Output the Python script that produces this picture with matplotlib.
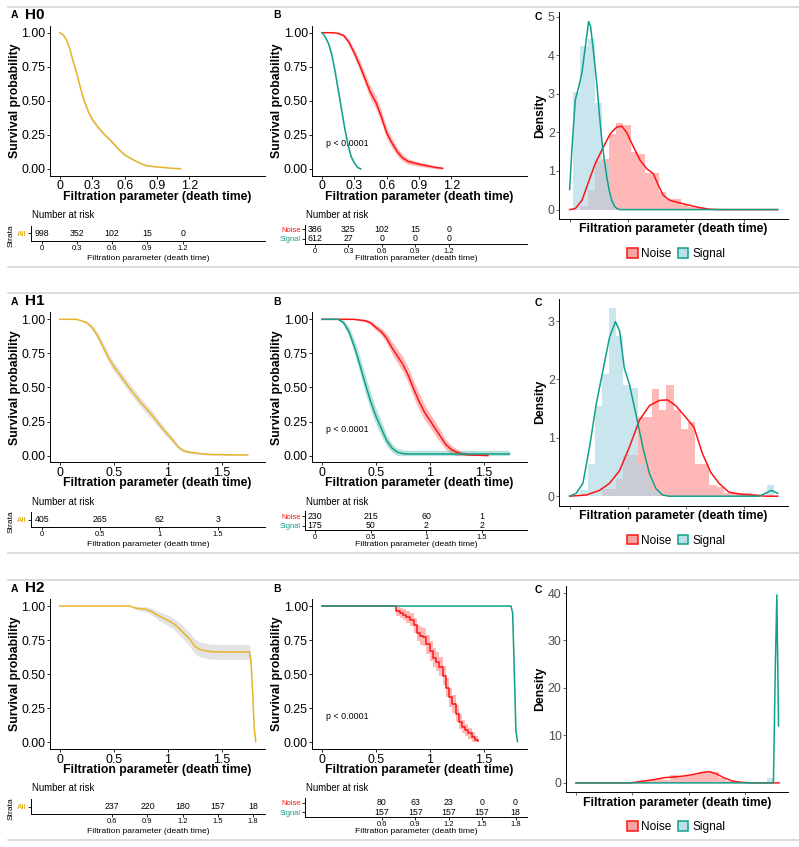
import numpy as np
import matplotlib.pyplot as plt
from matplotlib.lines import Line2D
from matplotlib.patches import Patch

plt.rcParams['font.family'] = ['Liberation Sans', 'DejaVu Sans']

# ---------------- data ----------------
# H0 survival curves (time, survival, CI half width)
h0_all_t = [0, 0.03, 0.06, 0.09, 0.12, 0.15, 0.18, 0.21, 0.24, 0.27, 0.30, 0.35, 0.40, 0.45,
            0.50, 0.55, 0.60, 0.65, 0.70, 0.75, 0.80, 0.85, 0.90, 0.95, 1.00, 1.05, 1.12]
h0_all_s = [1.0, 0.985, 0.95, 0.89, 0.80, 0.72, 0.63, 0.54, 0.47, 0.41, 0.365, 0.31, 0.265, 0.225,
            0.185, 0.14, 0.105, 0.08, 0.06, 0.04, 0.025, 0.02, 0.015, 0.012, 0.008, 0.005, 0.002]
h0_all_ci = [0, 0.005, 0.008, 0.01, 0.012, 0.014, 0.015, 0.015, 0.015, 0.015, 0.015, 0.014, 0.013,
             0.012, 0.011, 0.01, 0.009, 0.008, 0.007, 0.006, 0.005, 0.004, 0.004, 0.003, 0.003, 0.002, 0.002]
h0_noise_t = [0, 0.10, 0.15, 0.20, 0.25, 0.30, 0.35, 0.40, 0.45, 0.50, 0.55, 0.60, 0.65, 0.70,
              0.75, 0.80, 0.90, 1.00, 1.05, 1.12]
h0_noise_s = [1.0, 1.0, 0.995, 0.98, 0.93, 0.85, 0.76, 0.66, 0.56, 0.49, 0.385, 0.265, 0.19, 0.125,
              0.08, 0.055, 0.035, 0.02, 0.012, 0.005]
h0_noise_ci = [0, 0, 0.005, 0.01, 0.02, 0.03, 0.035, 0.04, 0.045, 0.045, 0.045, 0.04, 0.035, 0.03,
               0.025, 0.02, 0.015, 0.012, 0.01, 0.008]
h0_signal_t = [0, 0.03, 0.06, 0.09, 0.12, 0.15, 0.18, 0.21, 0.24, 0.27, 0.30, 0.33, 0.36]
h0_signal_s = [1.0, 0.97, 0.92, 0.84, 0.72, 0.58, 0.44, 0.30, 0.18, 0.09, 0.044, 0.012, 0.0]
h0_signal_ci = [0, 0.008, 0.012, 0.016, 0.02, 0.022, 0.022, 0.02, 0.018, 0.014, 0.01, 0.006, 0]

# H1 survival curves
h1_all_t = [0, 0.15, 0.20, 0.25, 0.30, 0.35, 0.40, 0.45, 0.50, 0.55, 0.60, 0.65, 0.70, 0.75, 0.80,
            0.85, 0.90, 0.95, 1.00, 1.05, 1.10, 1.15, 1.20, 1.30, 1.40, 1.50, 1.60, 1.74]
h1_all_s = [1.0, 1.0, 0.99, 0.975, 0.94, 0.88, 0.80, 0.72, 0.655, 0.60, 0.545, 0.49, 0.44, 0.39, 0.345,
            0.30, 0.25, 0.20, 0.155, 0.11, 0.06, 0.035, 0.025, 0.015, 0.008, 0.0074, 0.005, 0.005]
h1_all_ci = [0, 0, 0.005, 0.01, 0.02, 0.025, 0.03, 0.035, 0.035, 0.035, 0.035, 0.035, 0.035, 0.035,
             0.035, 0.033, 0.03, 0.028, 0.025, 0.02, 0.015, 0.012, 0.01, 0.008, 0.006, 0.006, 0.005, 0.005]
h1_noise_t = [0, 0.29, 0.35, 0.40, 0.45, 0.50, 0.55, 0.60, 0.65, 0.70, 0.75, 0.80, 0.85, 0.90, 0.95,
              1.00, 1.05, 1.10, 1.15, 1.20, 1.25, 1.30, 1.35, 1.40, 1.54]
h1_noise_s = [1.0, 1.0, 0.995, 0.99, 0.975, 0.94, 0.91, 0.86, 0.79, 0.73, 0.67, 0.59, 0.49, 0.40, 0.32,
              0.26, 0.20, 0.14, 0.08, 0.045, 0.025, 0.012, 0.006, 0.004, 0.0]
h1_noise_ci = [0, 0, 0.005, 0.01, 0.015, 0.02, 0.025, 0.035, 0.045, 0.05, 0.055, 0.055, 0.06, 0.06,
               0.055, 0.05, 0.05, 0.045, 0.035, 0.03, 0.025, 0.02, 0.015, 0.012, 0.012]
h1_signal_t = [0, 0.15, 0.20, 0.25, 0.30, 0.35, 0.40, 0.45, 0.50, 0.55, 0.60, 0.65, 0.70, 0.75, 0.80,
               1.0, 1.2, 1.4, 1.6, 1.74]
h1_signal_s = [1.0, 1.0, 0.975, 0.91, 0.80, 0.67, 0.53, 0.40, 0.29, 0.20, 0.11, 0.055, 0.025, 0.015,
               0.0115, 0.0115, 0.0115, 0.0115, 0.0115, 0.0115]
h1_signal_ci = [0, 0, 0.02, 0.035, 0.05, 0.06, 0.065, 0.065, 0.06, 0.055, 0.04, 0.03, 0.028, 0.027,
                0.027, 0.027, 0.027, 0.027, 0.027, 0.027]

# H2 survival curves
h2_all_t = [0, 0.65, 0.70, 0.75, 0.80, 0.85, 0.90, 0.95, 1.00, 1.05, 1.10, 1.15, 1.20, 1.25, 1.30,
            1.35, 1.40, 1.50, 1.60, 1.70, 1.755, 1.77, 1.785, 1.80, 1.815]
h2_all_s = [1.0, 1.0, 0.985, 0.98, 0.975, 0.96, 0.935, 0.915, 0.895, 0.872, 0.84, 0.80, 0.76, 0.705,
            0.68, 0.672, 0.665, 0.663, 0.663, 0.663, 0.663, 0.60, 0.38, 0.11, 0.005]
h2_all_ci = [0, 0, 0.01, 0.015, 0.02, 0.025, 0.03, 0.035, 0.04, 0.04, 0.045, 0.05, 0.05, 0.055, 0.055,
             0.055, 0.055, 0.055, 0.055, 0.055, 0.055, 0.05, 0.04, 0.02, 0.0]
h2_noise_t = [0, 0.655, 0.69, 0.72, 0.75, 0.78, 0.82, 0.85, 0.88, 0.91, 0.94, 0.97, 1.00, 1.03, 1.06,
              1.09, 1.12, 1.15, 1.18, 1.21, 1.24, 1.27, 1.30, 1.33, 1.36, 1.39, 1.42, 1.446]
h2_noise_s = [1.0, 1.0, 0.96, 0.95, 0.935, 0.92, 0.90, 0.86, 0.80, 0.78, 0.775, 0.72, 0.67, 0.62, 0.59,
              0.555, 0.49, 0.40, 0.33, 0.28, 0.21, 0.15, 0.115, 0.09, 0.065, 0.04, 0.017, 0.012]
h2_noise_ci = [0, 0, 0.03, 0.035, 0.04, 0.045, 0.05, 0.055, 0.06, 0.065, 0.065, 0.07, 0.07, 0.07, 0.07,
               0.07, 0.07, 0.07, 0.07, 0.065, 0.06, 0.055, 0.05, 0.045, 0.04, 0.035, 0.03, 0.03]
h2_signal_t = [0, 1.755, 1.77, 1.785, 1.80, 1.815]
h2_signal_s = [1.0, 1.0, 0.946, 0.53, 0.09, 0.005]
h2_signal_ci = [0, 0, 0.02, 0.04, 0.02, 0]

# number at risk tables
h0_risk_t = [0, 0.3, 0.6, 0.9, 1.2]
h0_risk_all = [998, 352, 102, 15, 0]
h0_risk_noise = [386, 325, 102, 15, 0]
h0_risk_signal = [612, 27, 0, 0, 0]
h1_risk_t = [0, 0.5, 1.0, 1.5]
h1_risk_all = [405, 265, 62, 3]
h1_risk_noise = [230, 215, 60, 1]
h1_risk_signal = [175, 50, 2, 2]
h2_risk_t = [0.6, 0.9, 1.2, 1.5, 1.8]
h2_risk_all = [237, 220, 180, 157, 18]
h2_risk_noise = [80, 63, 23, 0, 0]
h2_risk_signal = [157, 157, 157, 157, 18]

# histograms (density), bin k centred at k * bin_w
bin_w = 0.0617
h0_hist_noise = [0, 0, 0.1, 0.5, 1.25, 1.3, 1.95, 2.25, 2.2, 1.5, 1.45, 0.95, 0.95, 0.45, 0.27, 0.27,
                 0.12, 0.08, 0.03]
h0_hist_signal = [0, 3.05, 4.25, 4.42, 2.75, 1.2, 0.3]
h1_hist_noise = [0, 0, 0, 0, 0, 0.13, 0.13, 0.3, 0.7, 0.7, 1.35, 1.35, 1.83, 1.47, 1.9, 1.47, 1.15,
                 1.27, 0.55, 0.55, 0.2, 0.15, 0.05, 0.05, 0.05, 0.06, 0.03]
h1_hist_signal = [0, 0, 0.1, 0.55, 1.55, 2.1, 3.22, 2.75, 1.9, 1.85, 0.55, 0.35, 0.1, 0, 0, 0, 0, 0,
                  0, 0, 0, 0, 0, 0, 0, 0, 0, 0, 0.2]
h2_hist_noise = [0, 0, 0, 0, 0, 0, 0, 0, 0, 0, 0.4, 0.6, 0.8, 0.6, 1.6, 1.3, 1.5, 1.6, 2.0, 2.5, 2.3,
                 1.0, 0.5, 0.3]
h2_hist_signal = [0] * 28 + [1.1]

# density curves
h0_dens_noise_x = [0, 0.05, 0.106, 0.163, 0.22, 0.29, 0.35, 0.406, 0.449, 0.49, 0.55, 0.606, 0.663,
                   0.72, 0.763, 0.806, 0.863, 0.95, 1.035, 1.12, 1.206, 1.3, 1.79]
h0_dens_noise_y = [0.0, 0.03, 0.24, 0.72, 1.19, 1.62, 1.97, 2.14, 2.16, 2.0, 1.62, 1.28, 1.06, 0.93,
                   0.63, 0.37, 0.24, 0.17, 0.11, 0.05, 0.01, 0.0, 0.0]
h0_dens_signal_x = [0, 0.02, 0.049, 0.08, 0.106, 0.13, 0.149, 0.163, 0.18, 0.205, 0.234, 0.255, 0.277,
                    0.3, 0.32, 0.34, 0.363, 0.385, 0.406, 0.43, 1.79]
h0_dens_signal_y = [0.52, 1.6, 2.85, 3.2, 3.55, 4.1, 4.55, 4.87, 4.75, 4.1, 3.26, 2.5, 1.79, 1.25,
                    0.84, 0.5, 0.24, 0.09, 0.03, 0.0, 0.0]
h1_dens_noise_x = [0, 0.143, 0.257, 0.343, 0.43, 0.514, 0.6, 0.686, 0.77, 0.843, 0.914, 1.0, 1.07,
                   1.143, 1.214, 1.286, 1.37, 1.486, 1.57, 1.686, 1.79]
h1_dens_noise_y = [0, 0.02, 0.1, 0.22, 0.44, 0.84, 1.3, 1.55, 1.64, 1.65, 1.55, 1.35, 1.18, 0.73,
                   0.41, 0.22, 0.07, 0.03, 0.02, 0.0, 0.0]
h1_dens_signal_x = [0, 0.057, 0.114, 0.171, 0.229, 0.286, 0.343, 0.394, 0.43, 0.47, 0.514, 0.57, 0.63,
                    0.686, 0.743, 0.8, 0.857, 1.63, 1.686, 1.735, 1.79]
h1_dens_signal_y = [0, 0.05, 0.22, 0.84, 1.58, 2.15, 2.72, 2.99, 2.83, 2.2, 1.92, 1.41, 0.84, 0.39,
                    0.13, 0.02, 0.0, 0.0, 0.05, 0.1, 0.05]
h2_dens_noise_x = [0, 0.48, 0.6, 0.69, 0.78, 0.87, 0.955, 1.045, 1.12, 1.18, 1.24, 1.31, 1.386, 1.46,
                   1.55, 1.80]
h2_dens_noise_y = [0, 0, 0.4, 0.7, 1.1, 1.25, 1.46, 1.8, 2.2, 2.37, 1.95, 1.1, 0.4, 0.14, 0, 0]
h2_dens_signal_x = [0, 1.75, 1.766, 1.78, 1.795]
h2_dens_signal_y = [0, 0, 23.6, 39.6, 12]

# ---------------- style ----------------
ALL_COL = '#E7B52A'
NOISE_COL = '#FF1414'
SIGNAL_COL = '#11A08A'
XLIM = (-0.0905, 1.9005)
BIG = 8.8
W, H = 799, 847

fig = plt.figure(figsize=(W / 100, H / 100), dpi=100)


def add_ax(x0, y0, x1, y1):
    return fig.add_axes([x0 / W, 1 - y1 / H, (x1 - x0) / W, (y1 - y0) / H])


def ftext(x, y, s, **kw):
    kw.setdefault('ha', 'center')
    kw.setdefault('va', 'center')
    fig.text(x / W, 1 - y / H, s, **kw)


def clean(ax, col='black'):
    for s in ['top', 'right']:
        ax.spines[s].set_visible(False)
    for s in ['left', 'bottom']:
        ax.spines[s].set_linewidth(0.7)
        ax.spines[s].set_color(col)


def surv_curve(ax, t, s, ci, col, band, step=False):
    t = np.array(t); s = np.array(s); ci = np.array(ci)
    ds = 'steps-post' if step else 'default'
    ax.fill_between(t, np.clip(s - ci, 0, 1), np.clip(s + ci, 0, 1), color=band, lw=0,
                    step='post' if step else None)
    ax.plot(t, s, color=col, lw=1.1, drawstyle=ds)


def surv_axes(x0, x1, top, ticks, labels):
    ax = add_ax(x0, top + 19.2, x1, top + 169.1)
    clean(ax)
    ax.set_xlim(XLIM)
    ax.set_ylim(-0.05, 1.05)
    ax.set_xticks(ticks)
    ax.set_xticklabels(labels)
    ax.set_yticks([0, 0.25, 0.5, 0.75, 1.0])
    ax.set_yticklabels(['0.00', '0.25', '0.50', '0.75', '1.00'])
    ax.tick_params(length=2.2, width=0.6, pad=1, labelsize=8.9, colors='black')
    return ax


def risk_table(x0, x1, top, rows, names, cols, times, ticklabels, strata_label):
    n = len(rows)
    if n == 1:
        ax = add_ax(x0, top + 219, x1, top + 234)
    else:
        ax = add_ax(x0, top + 218, x1, top + 237)
    clean(ax)
    ax.set_xlim(XLIM)
    ax.set_ylim(0.5, n + 0.5)
    for i, vals in enumerate(rows):
        yv = n - i
        for tt, v in zip(times, vals):
            ax.text(tt, yv, str(v), ha='center', va='center', fontsize=6.3)
    ax.set_xticks(times)
    ax.set_xticklabels(ticklabels)
    ax.set_yticks([n - i for i in range(n)])
    ax.set_yticklabels(names)
    ax.tick_params(length=2, width=0.6, pad=1, labelsize=5.4)
    for lab, c in zip(ax.get_yticklabels(), cols):
        lab.set_color(c)
        if strata_label:
            lab.set_fontweight('bold')
    cx = (x0 + x1) / 2
    ftext(x0 + 1, top + 208.3, 'Number at risk', ha='left', fontsize=6.9)
    ftext(cx, top + 251.6, 'Filtration parameter (death time)', fontsize=6.1)
    if strata_label:
        ftext(11, top + 228.6, 'Strata', rotation=90, fontsize=6.1)
    return ax


def density_panel(x0, top, hn, hs, nx, ny, sx, sy, yticks):
    ax = add_ax(x0, top + 5.5, 788, top + 212.3)
    clean(ax)
    m = max(max(hn), max(hs), max(ny), max(sy))
    ax.set_xlim(-0.089, 1.879)
    ax.set_ylim(-0.05 * m, 1.05 * m)
    ax.bar(np.arange(len(hn)) * bin_w, hn, width=bin_w, color=NOISE_COL, alpha=0.3, lw=0)
    ax.bar(np.arange(len(hs)) * bin_w, hs, width=bin_w, color='lightblue', alpha=0.65, lw=0)
    ax.plot(nx, ny, color=NOISE_COL, lw=1.1)
    ax.plot(sx, sy, color=SIGNAL_COL, lw=1.1)
    ax.set_xticks([0, 0.5, 1.0, 1.5])
    ax.set_xticklabels([])
    ax.set_yticks(yticks)
    ax.tick_params(length=2.2, width=0.6, pad=1, labelsize=8.9, colors='#4D4D4D')
    ftext(540, top + 109, 'Density', rotation=90, fontsize=BIG, fontweight='bold')
    ftext((x0 + 788) / 2, top + 222.6, 'Filtration parameter (death time)',
          fontsize=BIG, fontweight='bold')
    ftext(538, top + 10, 'C', fontsize=7.5, fontweight='bold')
    handles = [Patch(facecolor='#F5A3A3', edgecolor=NOISE_COL, lw=1.1, label='Noise'),
               Patch(facecolor='#BBDFE8', edgecolor=SIGNAL_COL, lw=1.1, label='Signal')]
    fig.legend(handles=handles, loc='center', bbox_to_anchor=(676 / W, 1 - (top + 247.3) / H),
               ncol=2, frameon=False, fontsize=8.6, handlelength=0.9, handleheight=0.9,
               handletextpad=0.3, columnspacing=0.5, borderpad=0)
    return ax


rows = [
    dict(name='H0', ticks=[0, 0.3, 0.6, 0.9, 1.2], labels=['0', '0.3', '0.6', '0.9', '1.2'],
         all=(h0_all_t, h0_all_s, h0_all_ci), noise=(h0_noise_t, h0_noise_s, h0_noise_ci),
         signal=(h0_signal_t, h0_signal_s, h0_signal_ci),
         risk_t=h0_risk_t, risk_lab=['0', '0.3', '0.6', '0.9', '1.2'],
         r_all=h0_risk_all, r_noise=h0_risk_noise, r_signal=h0_risk_signal,
         hist=(h0_hist_noise, h0_hist_signal),
         dens=(h0_dens_noise_x, h0_dens_noise_y, h0_dens_signal_x, h0_dens_signal_y),
         dticks=[0, 1, 2, 3, 4, 5], cx0=559.3, step=False),
    dict(name='H1', ticks=[0, 0.5, 1.0, 1.5], labels=['0', '0.5', '1', '1.5'],
         all=(h1_all_t, h1_all_s, h1_all_ci), noise=(h1_noise_t, h1_noise_s, h1_noise_ci),
         signal=(h1_signal_t, h1_signal_s, h1_signal_ci),
         risk_t=h1_risk_t, risk_lab=['0', '0.5', '1', '1.5'],
         r_all=h1_risk_all, r_noise=h1_risk_noise, r_signal=h1_risk_signal,
         hist=(h1_hist_noise, h1_hist_signal),
         dens=(h1_dens_noise_x, h1_dens_noise_y, h1_dens_signal_x, h1_dens_signal_y),
         dticks=[0, 1, 2, 3], cx0=559.3, step=False),
    dict(name='H2', ticks=[0, 0.5, 1.0, 1.5], labels=['0', '0.5', '1', '1.5'],
         all=(h2_all_t, h2_all_s, h2_all_ci), noise=(h2_noise_t, h2_noise_s, h2_noise_ci),
         signal=(h2_signal_t, h2_signal_s, h2_signal_ci),
         risk_t=h2_risk_t, risk_lab=['0.6', '0.9', '1.2', '1.5', '1.8'],
         r_all=h2_risk_all, r_noise=h2_risk_noise, r_signal=h2_risk_signal,
         hist=(h2_hist_noise, h2_hist_signal),
         dens=(h2_dens_noise_x, h2_dens_noise_y, h2_dens_signal_x, h2_dens_signal_y),
         dticks=[0, 10, 20, 30, 40], cx0=566, step=True),
]

row_tops = [6.7, 293.3, 580.0]

for top, r in zip(row_tops, rows):
    # frame lines
    for yy in (top, top + 260):
        fig.add_artist(Line2D([8 / W, 1], [1 - yy / H, 1 - yy / H], color='#D6D6D6', lw=1.2))

    # panel A
    ax = surv_axes(50, 265, top, r['ticks'], r['labels'])
    surv_curve(ax, *r['all'], ALL_COL, '#E4E4E4')
    ftext(14, top + 8.5, 'A', fontsize=7.5, fontweight='bold')
    ftext(25, top + 8, r['name'], ha='left', fontsize=11, fontweight='bold')
    ftext(15, top + 94, 'Survival probability', rotation=90, fontsize=BIG, fontweight='bold')
    ftext(157.5, top + 190, 'Filtration parameter (death time)', fontsize=BIG, fontweight='bold')
    risk_table(31, 265, top, [r['r_all']], ['All'], [ALL_COL], r['risk_t'], r['risk_lab'], True)

    # panel B
    ax = surv_axes(312.3, 526.7, top, r['ticks'], r['labels'])
    surv_curve(ax, *r['noise'], NOISE_COL, (1, 0, 0, 0.28), step=r['step'])
    surv_curve(ax, *r['signal'], SIGNAL_COL, (0.07, 0.63, 0.54, 0.3))
    ax.text(0.04, 0.19, 'p < 0.0001', ha='left', va='center', fontsize=6.4)
    ftext(277, top + 8.5, 'B', fontsize=7.5, fontweight='bold')
    ftext(277.3, top + 94, 'Survival probability', rotation=90, fontsize=BIG, fontweight='bold')
    ftext(419.5, top + 190, 'Filtration parameter (death time)', fontsize=BIG, fontweight='bold')
    risk_table(305, 526.7, top, [r['r_noise'], r['r_signal']], ['Noise', 'Signal'],
               [NOISE_COL, SIGNAL_COL], r['risk_t'], r['risk_lab'], False)

    # panel C
    density_panel(r['cx0'], top, *r['hist'], *r['dens'], r['dticks'])

fig.savefig('out.png', dpi=100)
